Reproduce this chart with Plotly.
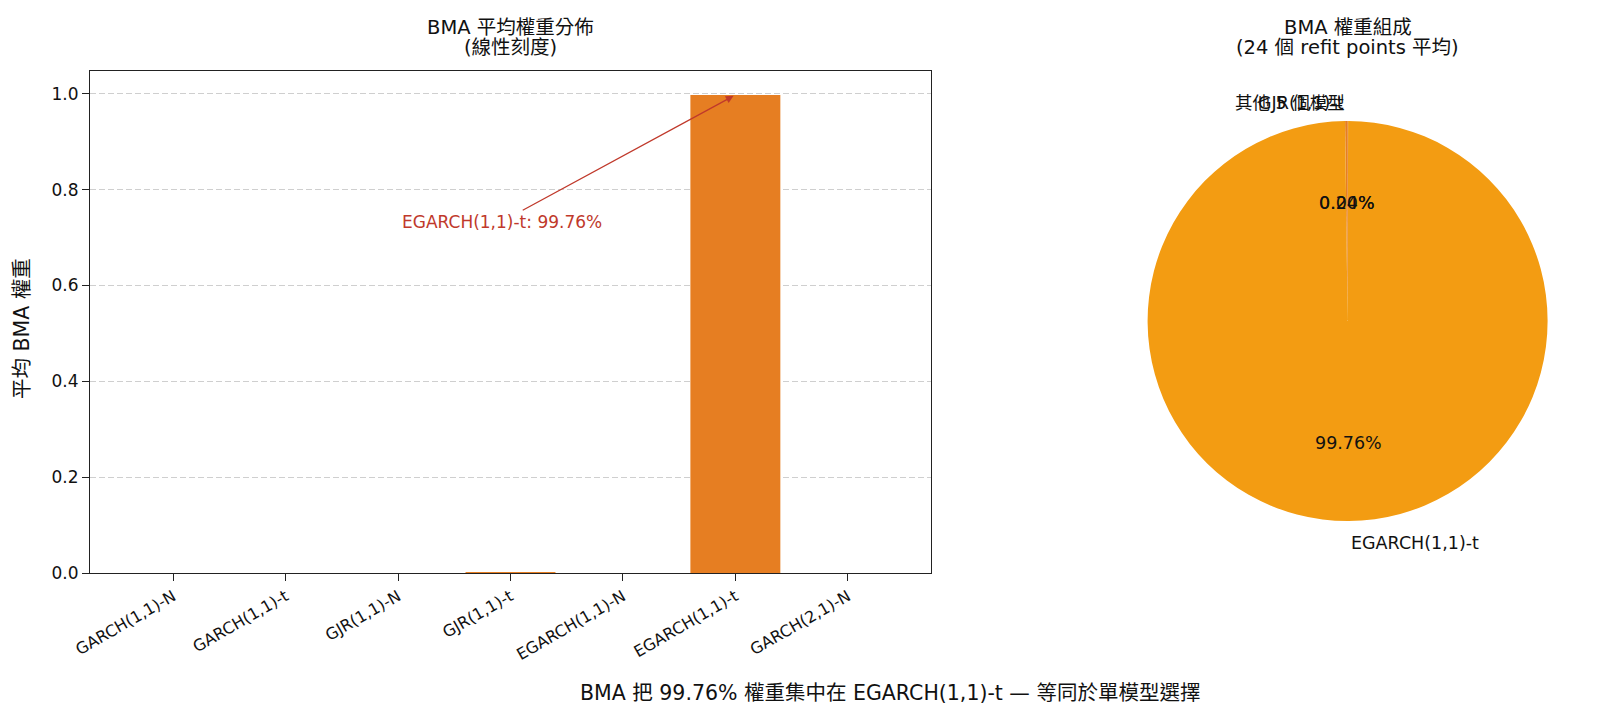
import math
import plotly.graph_objects as go

W, H = 1613, 718

models = ["GARCH(1,1)-N", "GARCH(1,1)-t", "GJR(1,1)-N", "GJR(1,1)-t",
          "EGARCH(1,1)-N", "EGARCH(1,1)-t", "GARCH(2,1)-N"]
weights = [0.0, 0.0, 0.0, 0.0020, 0.0, 0.9976, 0.0]

pie_labels = ["其他 5 個模型", "GJR(1,1)-t", "EGARCH(1,1)-t"]
pie_values = [0.0004, 0.0020, 0.9976]
pie_colors = ["#D35400", "#E67E22", "#F39C12"]

left_title = ["BMA 平均權重分佈", "(線性刻度)"]
right_title = ["BMA 權重組成", "(24 個 refit points 平均)"]
caption = "BMA 把 99.76% 權重集中在 EGARCH(1,1)-t — 等同於單模型選擇"
ylabel = "平均 BMA 權重"
yticks = [0, 0.2, 0.4, 0.6, 0.8, 1.0]

FONT = "DejaVu Sans, Noto Sans CJK TC, sans-serif"
RED = "#C0392B"
INK = "#111111"

def px(x):
    return x / W

def py(y):
    return 1 - y / H

# layout in pixels
ax_l, ax_r, ax_t, ax_b = 90, 931, 71, 573
pie_cx, pie_cy, pie_r = 1347.6, 321, 200

fig = go.Figure()
fig.add_trace(go.Bar(x=list(range(len(models))), y=weights, marker_color="#E67E22",
                     marker_line_width=0, width=0.8, xaxis="x", yaxis="y",
                     showlegend=False))

fig.add_trace(go.Pie(labels=pie_labels, values=pie_values, sort=False,
                     direction="counterclockwise", rotation=0,
                     marker=dict(colors=pie_colors, line=dict(width=0)),
                     textinfo="none", hoverinfo="label+percent", showlegend=False,
                     domain=dict(x=[px(pie_cx - pie_r), px(pie_cx + pie_r)],
                                 y=[py(pie_cy + pie_r), py(pie_cy - pie_r)])))

annotations = []
# pie labels and percents
total = sum(pie_values)
cum = 0.0
for lab, v in zip(pie_labels, pie_values):
    mid = math.radians(90 + 360 * (cum + v / 2) / total)
    cum += v
    c, s = math.cos(mid), math.sin(mid)
    lx, ly = pie_cx + 1.1 * pie_r * c, pie_cy + 2 - 1.1 * pie_r * s
    annotations.append(dict(x=px(lx), y=py(ly), xref="paper", yref="paper",
                            text=lab, showarrow=False,
                            xanchor="left" if c > 0 else "right", yanchor="middle",
                            font=dict(size=17.5, color=INK, family=FONT)))
    tx, ty = pie_cx + 0.6 * pie_r * c, pie_cy + 2 - 0.6 * pie_r * s
    annotations.append(dict(x=px(tx), y=py(ty), xref="paper", yref="paper",
                            text=f"{100 * v / total:.2f}%", showarrow=False,
                            xanchor="center", yanchor="middle",
                            font=dict(size=17.5, color=INK, family=FONT)))

# titles (one annotation per line for tight line spacing)
for cx, lines in (((ax_l + ax_r) / 2, left_title), (pie_cx, right_title)):
    for i, line in enumerate(lines):
        annotations.append(dict(x=px(cx), y=py(27.5 + 20.5 * i), xref="paper", yref="paper",
                                text=line, showarrow=False, xanchor="center", borderpad=0,
                                yanchor="middle", font=dict(size=19.5, color=INK, family=FONT)))

annotations += [
    dict(x=px(890), y=py(693), xref="paper", yref="paper",
         text=caption, showarrow=False,
         xanchor="center", yanchor="middle", font=dict(size=20.5, color=INK, family=FONT)),
    dict(x=px(22), y=py(329), xref="paper", yref="paper",
         text=ylabel, showarrow=False, textangle=-90,
         xanchor="center", yanchor="middle", font=dict(size=20.5, color=INK, family=FONT)),
    dict(x=models.index("EGARCH(1,1)-t"), y=weights[models.index("EGARCH(1,1)-t")],
         xref="x", yref="y", ax=2.92, ay=0.733, axref="x", ayref="y",
         text=f"EGARCH(1,1)-t: {weights[5]*100:.2f}%", showarrow=True,
         arrowhead=2, arrowsize=1.2, arrowwidth=1.3, arrowcolor=RED, standoff=2,
         font=dict(size=17, color=RED, family=FONT)),
]

fig.update_layout(
    width=W, height=H,
    margin=dict(l=0, r=0, t=0, b=0, pad=0, autoexpand=False),
    paper_bgcolor="white", plot_bgcolor="white",
    font=dict(family=FONT, color=INK),
    annotations=annotations,
    xaxis=dict(domain=[px(ax_l), px(ax_r)], range=[-0.74, 6.74], automargin=False,
               tickmode="array", tickvals=list(range(len(models))), ticktext=models,
               tickangle=-30, tickfont=dict(size=16, family=FONT, color=INK),
               ticks="outside", ticklen=7, tickcolor="#222",
               showline=True, linecolor="#222", linewidth=1.2, mirror=True,
               showgrid=False, zeroline=False, anchor="y"),
    yaxis=dict(domain=[py(ax_b), py(ax_t)], range=[0, 1.0475], automargin=False,
               tickmode="array", tickvals=yticks, tickformat=".1f",
               tickfont=dict(size=17, family=FONT, color=INK),
               ticks="outside", ticklen=7, tickcolor="#222",
               showline=True, linecolor="#222", linewidth=1.2, mirror=True,
               showgrid=True, gridcolor="#cfcfcf", griddash="6px,3px", gridwidth=1,
               zeroline=False, anchor="x"),
)

fig.write_html("out.html")
